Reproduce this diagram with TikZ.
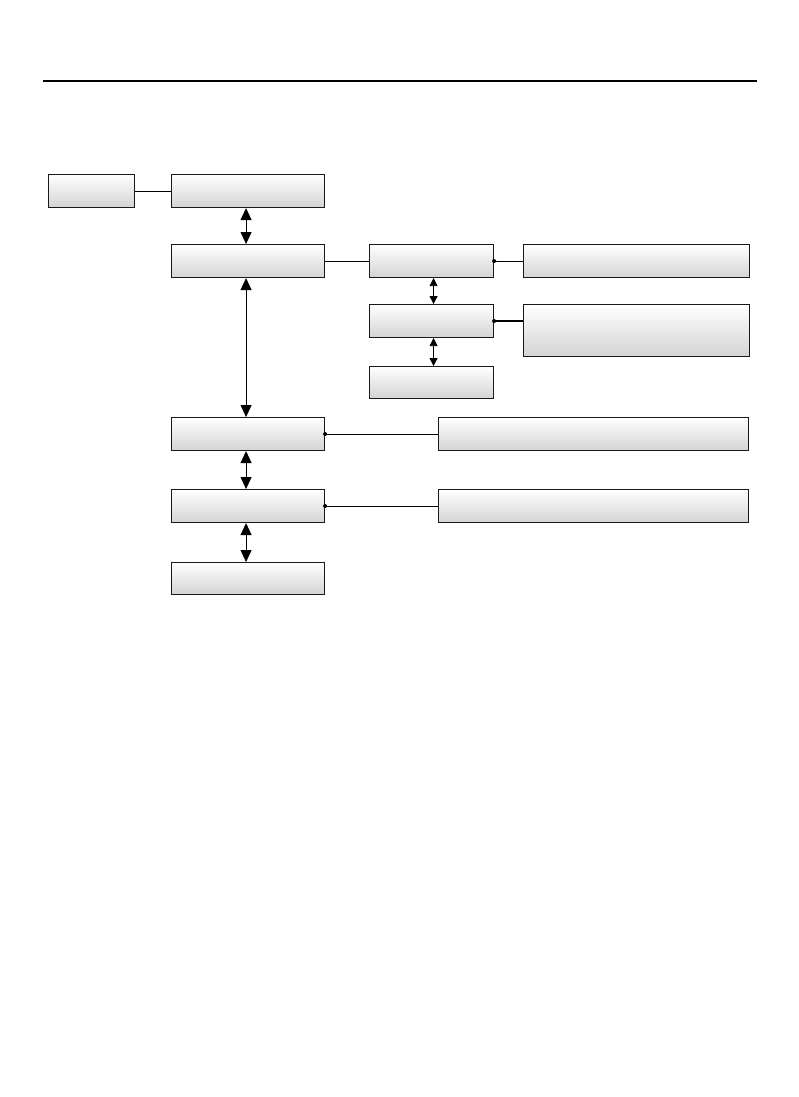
\documentclass[tikz,border=0pt]{standalone}
\usetikzlibrary{arrows.meta}

\begin{document}
\begin{tikzpicture}[
  x=1pt, y=-1pt,
  box/.style={draw=black!90, line width=1.1pt, anchor=north west, inner sep=0pt,
              top color=white, bottom color=black!17},
  arr/.style={{Triangle[length=12pt, width=11pt]}-{Triangle[length=12pt, width=11pt]}, line width=0.9pt},
  sarr/.style={{Triangle[length=8pt, width=8pt]}-{Triangle[length=8pt, width=8pt]}, line width=0.8pt},
  link/.style={line width=0.8pt},
  dot/.style={circle, fill=black, inner sep=0pt, minimum size=4pt},
]
\useasboundingbox (0,0) rectangle (799,1097);
\draw[line width=1.6pt] (43,81) -- (757,81);
% left column
\node[box, minimum width=86pt, minimum height=33pt] (cfg) at (48,174) {};
\node[box, minimum width=153pt, minimum height=33pt] (top) at (171,174) {};
\node[box, minimum width=153pt, minimum height=33pt] (hub) at (171,244) {};
\node[box, minimum width=153pt, minimum height=33pt] (mid) at (171,417) {};
\node[box, minimum width=153pt, minimum height=33pt] (low) at (171,489) {};
\node[box, minimum width=153pt, minimum height=32pt] (base) at (171,562) {};
% middle column
\node[box, minimum width=124pt, minimum height=33pt] (subA) at (369,244) {};
\node[box, minimum width=124pt, minimum height=33pt] (subB) at (369,304) {};
\node[box, minimum width=124pt, minimum height=32pt] (subC) at (369,366) {};
% right column
\node[box, minimum width=226pt, minimum height=33pt] (infoA) at (523,244) {};
\node[box, minimum width=226pt, minimum height=52pt] (infoB) at (523,304) {};
\node[box, minimum width=310pt, minimum height=33pt] (infoC) at (438,417) {};
\node[box, minimum width=310pt, minimum height=33pt] (infoD) at (438,489) {};
% plain links
\draw[link] (cfg) -- (top);
\draw[link] (hub) -- (subA.west |- hub);
% links with dots
\node[dot] (dA) at (subA.east) {};
\node[dot] (dB) at (subB.east) {};
\node[dot] (dC) at (mid.east) {};
\node[dot] (dD) at (low.east) {};
\draw[link] (dA) -- (infoA.west |- dA);
\draw[line width=1.6pt] (dB) -- (infoB.west |- dB);
\draw[link] (dC) -- (infoC.west |- dC);
\draw[link] (dD) -- (infoD.west |- dD);
% arrows
\draw[arr] (top.south) ++(-2,0) coordinate (t1) -- (t1 |- hub.north);
\draw[arr] (hub.south) ++(-2,0) coordinate (h1) -- (h1 |- mid.north);
\draw[arr] (mid.south) ++(-2,0) coordinate (m1) -- (m1 |- low.north);
\draw[arr] (low.south) ++(-2,0) coordinate (l1) -- (l1 |- base.north);
\draw[sarr] (subA.south) ++(2,0) coordinate (s1) -- (s1 |- subB.north);
\draw[sarr] (subB.south) ++(2,0) coordinate (s2) -- (s2 |- subC.north);
\end{tikzpicture}
\end{document}
